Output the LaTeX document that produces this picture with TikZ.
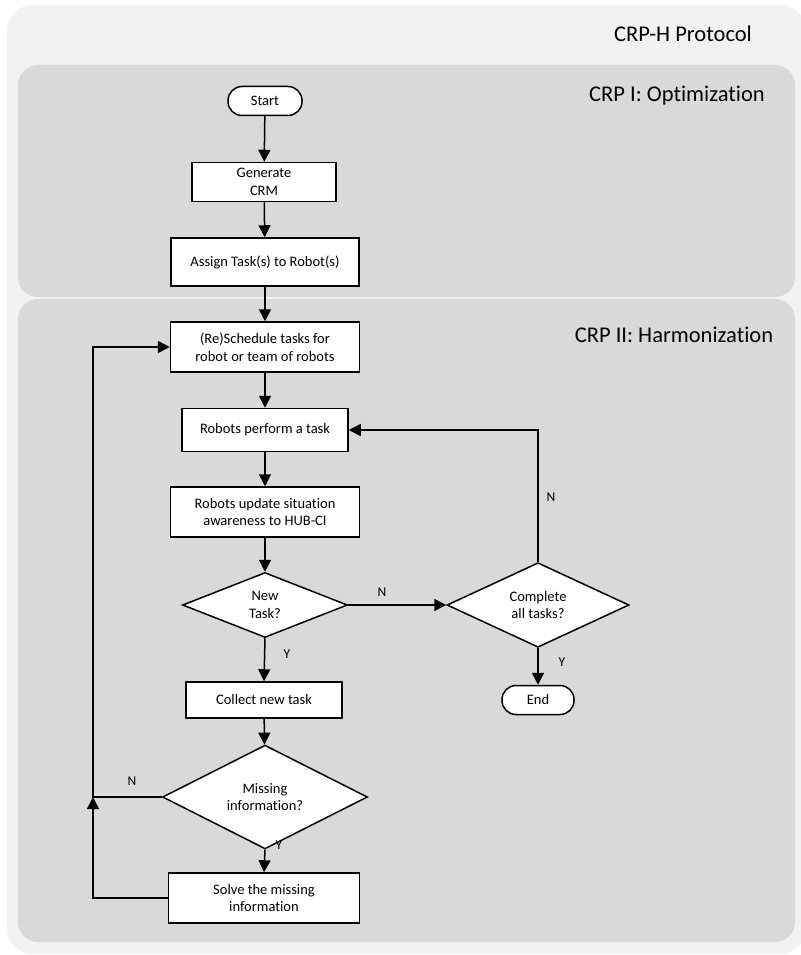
\documentclass[tikz,border=0pt]{standalone}
\usepackage{fontspec}
\setmainfont{Carlito}[Ligatures=NoCommon]
\usetikzlibrary{shapes.geometric,arrows.meta}

\definecolor{outerpanel}{HTML}{F2F2F2}
\definecolor{innerpanel}{HTML}{D9D9D9}

\tikzset{
  flow/.style={draw=black, line width=1.5pt, fill=white, inner sep=0pt,
    align=center, font=\fontsize{14.5}{17.5}\selectfont},
  procbox/.style={flow, rectangle},
  terminal/.style={flow, rectangle, rounded corners=14pt},
  decision/.style={flow, diamond},
  link/.style={line width=1.5pt, -{Triangle[length=12pt,width=12pt]}},
  yn/.style={font=\fontsize{13.5}{16}\selectfont},
  paneltitle/.style={font=\fontsize{22.5}{27}\selectfont}
}

\begin{document}
\begin{tikzpicture}[x=1pt,y=-1pt]
  \useasboundingbox (0,0) rectangle (800,955);

  % panels
  \fill[outerpanel, rounded corners=26pt] (7,5) rectangle (806,954);
  \fill[innerpanel, rounded corners=20pt] (18,65) rectangle (795,297);
  \fill[innerpanel, rounded corners=20pt] (18,299) rectangle (795,942);

  \node[paneltitle] (tH)  at (683,34)  {CRP-H Protocol};
  \node[paneltitle] (tI)  at (677,96)  {CRP I: Optimization};
  \node[paneltitle] (tII) at (674,335) {CRP II: Harmonization};

  % flow nodes
  \node[terminal, minimum width=74pt, minimum height=29pt] (start) at (265,101) {Start};
  \node[procbox, minimum width=144pt, minimum height=39pt] (gen) at (264,182) {Generate\\CRM};
  \node[procbox, minimum width=188pt, minimum height=48pt] (assign) at (265,262) {Assign Task(s) to Robot(s)};
  \node[procbox, minimum width=189pt, minimum height=50pt] (sched) at (265,347) {(Re)Schedule tasks for\\robot or team of robots};
  \node[procbox, minimum width=166pt, minimum height=43pt] (perform) at (265,430) {Robots perform a task};
  \node[procbox, minimum width=189pt, minimum height=50pt] (update) at (265,512) {Robots update situation\\awareness to HUB-CI};
  \node[decision, minimum width=165pt, minimum height=65pt] (newt) at (265,605) {New\\Task?};
  \node[decision, minimum width=182pt, minimum height=66pt] (complete) at (538,605) {Complete\\all tasks?};
  \node[terminal, minimum width=72pt, minimum height=29pt] (end) at (538,700) {End};
  \node[procbox, minimum width=156pt, minimum height=36pt] (collect) at (264,700) {Collect new task};
  \node[decision, minimum width=205pt, minimum height=67pt] (missing) at (265,797) {Missing\\information?};
  \node[procbox, minimum width=191pt, minimum height=50pt] (solve) at (264,898) {Solve the missing\\information};

  \coordinate (loopjoin) at (93,797);

  % connectors
  \draw[link] (start) -- (gen);
  \draw[link] (gen) -- (assign);
  \draw[link] (assign) -- (sched);
  \draw[link] (sched) -- (perform);
  \draw[link] (perform) -- (update);
  \draw[link] (update) -- (newt);
  \draw[link] (newt.east) -- (complete.west);
  \draw[link] (complete.north) |- (perform.east);
  \draw[link] (complete.south) -- (end.north);
  \draw[link] (newt.south) -- (collect.north);
  \draw[link] (collect) -- (missing);
  \draw[link] (missing.south) -- (solve.north);
  \draw[link] (missing.west) -- (loopjoin) |- (sched.west);
  \draw[link] (solve.west) -| (loopjoin);

  % branch labels
  \node[yn] (nNew) at (382,592) {N};
  \node[yn] (nComp) at (551,497) {N};
  \node[yn] (yComp) at (562,662) {Y};
  \node[yn] (yNew) at (287,654) {Y};
  \node[yn] (yMiss) at (279,845) {Y};
  \node[yn] (nMiss) at (132,781) {N};
\end{tikzpicture}
\end{document}
